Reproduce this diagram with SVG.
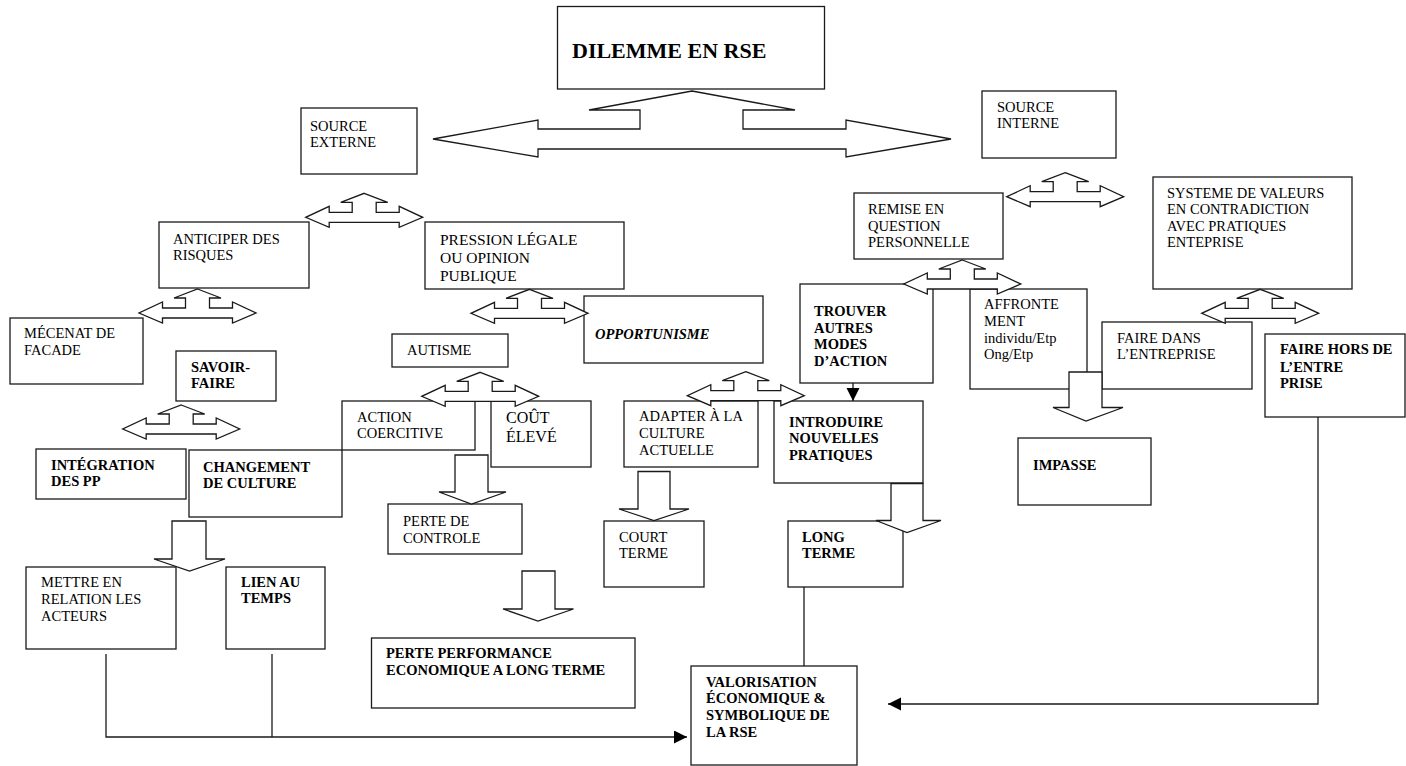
<svg xmlns="http://www.w3.org/2000/svg" width="1406" height="766" viewBox="0 0 1406 766">
<style>
.box{fill:#fff;stroke:#1a1a1a;stroke-width:1.3}
.blk{fill:#fff;stroke:#1a1a1a;stroke-width:1.3;stroke-linejoin:miter}
.ln{fill:none;stroke:#1a1a1a;stroke-width:1.3}
text{font-family:"Liberation Serif","Times New Roman",serif;font-size:14.5px;fill:#000}
.b{font-weight:bold}
.bi{font-weight:bold;font-style:italic}
</style>
<defs>
<path id="lru" class="blk" d="M58.5,0 L82,9 L70.5,9 L70.5,19 L93.5,19 L93.5,13 L117,24 L93.5,34 L93.5,29 L23.5,29 L23.5,34 L0,24 L23.5,13 L23.5,19 L46.5,19 L46.5,9 L35,9 Z"/>
<marker id="ah" markerUnits="userSpaceOnUse" markerWidth="14" markerHeight="14" refX="13" refY="6.5" orient="auto">
<path d="M0,0 L13,6.5 L0,13 Z" fill="#000"/>
</marker>
</defs>

<g id="n-dilemme"><rect class="box" x="557.5" y="6.5" width="267" height="82.5"/><text class="b" x="572" y="58" style="font-size:22px">DILEMME EN RSE</text></g>
<g id="n-source-externe"><rect class="box" x="301" y="108" width="116" height="66"/><text x="310"><tspan x="310" y="131">SOURCE</tspan><tspan x="310" y="147">EXTERNE</tspan></text></g>
<g id="n-source-interne"><rect class="box" x="982" y="91" width="134" height="67"/><text><tspan x="997" y="112">SOURCE</tspan><tspan x="997" y="128">INTERNE</tspan></text></g>
<g id="n-anticiper"><rect class="box" x="159" y="222" width="150" height="66"/><text><tspan x="173" y="244">ANTICIPER DES</tspan><tspan x="173" y="260">RISQUES</tspan></text></g>
<g id="n-pression"><rect class="box" x="425" y="222" width="199" height="67"/><text style="font-size:15.5px"><tspan x="440" y="245">PRESSION LÉGALE</tspan><tspan x="440" y="263">OU OPINION</tspan><tspan x="440" y="281">PUBLIQUE</tspan></text></g>
<g id="n-mecenat"><rect class="box" x="10" y="318" width="133" height="66"/><text><tspan x="24" y="338">MÉCENAT DE</tspan><tspan x="24" y="355">FACADE</tspan></text></g>
<g id="n-savoir-faire"><rect class="box" x="176" y="351" width="100" height="50"/><text class="b"><tspan x="191" y="372">SAVOIR-</tspan><tspan x="191" y="388">FAIRE</tspan></text></g>
<g id="n-integration"><rect class="box" x="36" y="449" width="150" height="50"/><text class="b"><tspan x="51" y="470">INTÉGRATION</tspan><tspan x="51" y="486">DES PP</tspan></text></g>
<g id="n-changement"><rect class="box" x="189" y="450" width="153" height="67"/><text class="b"><tspan x="203" y="472">CHANGEMENT</tspan><tspan x="203" y="488">DE CULTURE</tspan></text></g>
<g id="n-action"><rect class="box" x="342" y="401" width="133" height="49"/><text><tspan x="357" y="422">ACTION</tspan><tspan x="357" y="438">COERCITIVE</tspan></text></g>
<g id="n-cout"><rect class="box" x="491" y="401" width="100" height="66"/><text style="font-size:16px"><tspan x="506" y="423">COÛT</tspan><tspan x="506" y="442">ÉLEVÉ</tspan></text></g>
<g id="n-autisme"><rect class="box" x="392" y="334" width="116" height="33"/><text x="407" y="355">AUTISME</text></g>
<g id="n-opportunisme"><rect class="box" x="584" y="296" width="179" height="67"/><text class="bi" x="595" y="339">OPPORTUNISME</text></g>
<g id="n-adapter"><rect class="box" x="624" y="401" width="134" height="66"/><text><tspan x="639" y="421">ADAPTER À LA</tspan><tspan x="639" y="438">CULTURE</tspan><tspan x="639" y="455">ACTUELLE</tspan></text></g>
<g id="n-court"><rect class="box" x="604" y="521" width="100" height="66"/><text><tspan x="619" y="542">COURT</tspan><tspan x="619" y="558">TERME</tspan></text></g>
<g id="n-perte-controle"><rect class="box" x="388" y="504" width="134" height="50"/><text><tspan x="403" y="526">PERTE DE</tspan><tspan x="403" y="543">CONTROLE</tspan></text></g>
<g id="n-perte-performance"><rect class="box" x="371.5" y="638" width="263.5" height="70"/><text class="b"><tspan x="386" y="658">PERTE PERFORMANCE</tspan><tspan x="386" y="675">ECONOMIQUE A LONG TERME</tspan></text></g>
<g id="n-mettre"><rect class="box" x="26" y="567" width="150" height="82"/><text><tspan x="41" y="587">METTRE EN</tspan><tspan x="41" y="604">RELATION LES</tspan><tspan x="41" y="621">ACTEURS</tspan></text></g>
<g id="n-lien"><rect class="box" x="226" y="567" width="99" height="82"/><text class="b"><tspan x="241" y="587">LIEN AU</tspan><tspan x="241" y="603">TEMPS</tspan></text></g>
<g id="n-valorisation"><rect class="box" x="691" y="666" width="166" height="99"/><text class="b"><tspan x="706" y="687">VALORISATION</tspan><tspan x="706" y="703">ÉCONOMIQUE &amp;</tspan><tspan x="706" y="720">SYMBOLIQUE DE</tspan><tspan x="706" y="737">LA RSE</tspan></text></g>
<g id="n-trouver"><rect class="box" x="800" y="284" width="133" height="99"/><text class="b"><tspan x="814" y="316">TROUVER</tspan><tspan x="814" y="333">AUTRES</tspan><tspan x="814" y="349">MODES</tspan><tspan x="814" y="366">D’ACTION</tspan></text></g>
<g id="n-introduire"><rect class="box" x="774" y="401" width="149" height="82"/><text class="b"><tspan x="789" y="427">INTRODUIRE</tspan><tspan x="789" y="443">NOUVELLES</tspan><tspan x="789" y="460">PRATIQUES</tspan></text></g>
<g id="n-long"><rect class="box" x="788" y="521" width="115" height="66"/><text class="b"><tspan x="802" y="542">LONG</tspan><tspan x="802" y="558">TERME</tspan></text></g>
<g id="n-remise"><rect class="box" x="854" y="193" width="149" height="66"/><text><tspan x="868" y="214">REMISE EN</tspan><tspan x="868" y="231">QUESTION</tspan><tspan x="868" y="247">PERSONNELLE</tspan></text></g>
<g id="n-affrontement"><rect class="box" x="970" y="289" width="117" height="100"/><text><tspan x="984" y="309">AFFRONTE</tspan><tspan x="984" y="326">MENT</tspan><tspan x="984" y="343">individu/Etp</tspan><tspan x="984" y="359">Ong/Etp</tspan></text></g>
<g id="n-systeme"><rect class="box" x="1153" y="177" width="199" height="112"/><text><tspan x="1167" y="198">SYSTEME DE VALEURS</tspan><tspan x="1167" y="214">EN CONTRADICTION</tspan><tspan x="1167" y="231">AVEC PRATIQUES</tspan><tspan x="1167" y="247">ENTEPRISE</tspan></text></g>
<g id="n-faire-dans"><rect class="box" x="1102" y="322" width="150" height="67"/><text><tspan x="1117" y="343">FAIRE DANS</tspan><tspan x="1117" y="359">L’ENTREPRISE</tspan></text></g>
<g id="n-faire-hors"><rect class="box" x="1265" y="334" width="140" height="83"/><text class="b"><tspan x="1280" y="354">FAIRE HORS DE</tspan><tspan x="1280" y="372">L’ENTRE</tspan><tspan x="1280" y="388">PRISE</tspan></text></g>
<g id="n-impasse"><rect class="box" x="1018" y="438" width="133" height="67"/><text class="b" x="1033" y="470">IMPASSE</text></g>

<g id="connectors">
<polygon class="blk" points="692,91 795,110 743,110 743,129 846,129 846,120 951,139 846,157 846,149 538,149 538,157 433,139 538,120 538,129 640,129 640,110 589,110"/>
<use href="#lru" x="305.7" y="193.3"/>
<use href="#lru" x="139" y="289"/>
<use href="#lru" x="122.7" y="405"/>
<use href="#lru" x="471" y="289.3"/>
<use href="#lru" x="421.7" y="372.3"/>
<use href="#lru" x="687.3" y="371.7"/>
<use href="#lru" x="1006.7" y="172.7"/>
<use href="#lru" x="903.8" y="260"/>
<use href="#lru" x="1201.7" y="289.3"/>
<polygon class="blk" points="172,521 206,521 206,559 225,559 189.5,571 154,559 172,559"/>
<polygon class="blk" points="455,455 488,455 488,492 506,492 471.5,504 439,492 455,492"/>
<polygon class="blk" points="522,571 555,571 555,609 573.5,609 538,621 503,609 522,609"/>
<polygon class="blk" points="638,471.5 670,471.5 670,509 689,509 654,520.5 619,509 638,509"/>
<polygon class="blk" points="891,483.5 923,483.5 923,520.5 941,520.5 907,532.5 876,520.5 891,520.5"/>
<polygon class="blk" points="1069,372 1102,372 1102,407.5 1123,407.5 1086,421 1053,407.5 1069,407.5"/>
<line class="ln" x1="853" y1="383" x2="853" y2="401" marker-end="url(#ah)"/>
<polyline class="ln" points="106,654 106,737 687,737" marker-end="url(#ah)"/>
<line class="ln" x1="272" y1="654" x2="272" y2="737"/>
<line class="ln" x1="804" y1="587" x2="804" y2="666"/>
<polyline class="ln" points="1318,417 1318,704 888,704" marker-end="url(#ah)"/>
</g>
</svg>
